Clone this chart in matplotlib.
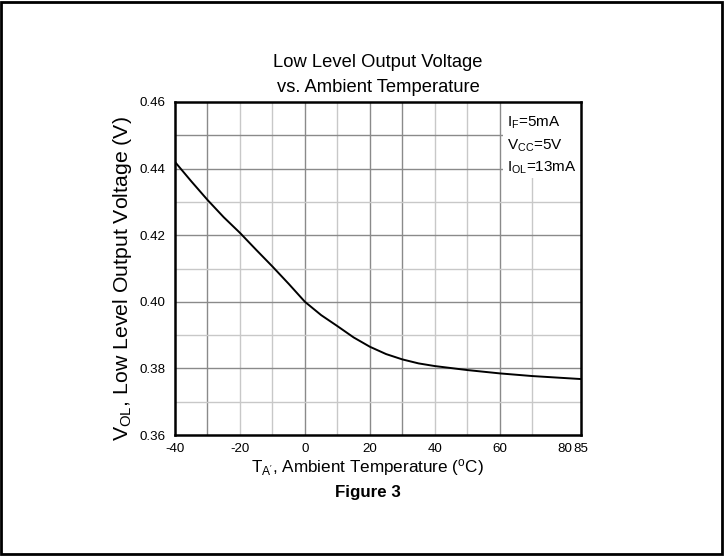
import matplotlib
matplotlib.use("Agg")
import matplotlib.pyplot as plt
from matplotlib.patches import Rectangle

plt.rcParams['font.family'] = ['Liberation Sans', 'DejaVu Sans']
plt.rcParams['mathtext.fontset'] = 'custom'
plt.rcParams['mathtext.rm'] = 'Liberation Sans'
plt.rcParams['mathtext.it'] = 'Liberation Sans'

# Low level output voltage vs ambient temperature
temperature_c = [-40, -35, -30, -25, -20, -15, -10, -5, 0, 5, 10, 15, 20,
                 25, 30, 35, 40, 50, 60, 70, 85]
vol_v = [0.4420, 0.4362, 0.4306, 0.4254, 0.4207, 0.4156, 0.4106, 0.4054,
         0.4000, 0.3960, 0.3927, 0.3893, 0.3865, 0.3843, 0.3827, 0.3815,
         0.3807, 0.3795, 0.3785, 0.3777, 0.3768]

x_ticks = [-40, -20, 0, 20, 40, 60, 80, 85]
x_tick_labels = ['-40', '-20', '0', '20', '40', '60', '80', '85']
y_ticks = [0.36, 0.38, 0.40, 0.42, 0.44, 0.46]
y_tick_labels = ['0.36', '0.38', '0.40', '0.42', '0.44', '0.46']
x_minor = [-30, -10, 10, 30, 50, 70]
y_minor = [0.37, 0.39, 0.41, 0.43, 0.45]

fig = plt.figure(figsize=(7.24, 5.56), dpi=100)
ax = fig.add_axes([175 / 724, 1 - 435 / 556, 406 / 724, 333 / 556])

ax.set_xlim(-40, 85)
ax.set_ylim(0.36, 0.46)

# grid
dark_x = (-30, 0, 20, 30, 60)
dark_y = (0.38, 0.40, 0.42, 0.44, 0.45)
for xv in x_ticks[1:-2] + x_minor:
    ax.axvline(xv, color='#8a8a8a' if xv in dark_x else '#c8c8c8', lw=1.0, zorder=1)
for yv in y_ticks[1:-1] + y_minor:
    ax.axhline(yv, color='#8a8a8a' if yv in dark_y else '#c8c8c8', lw=1.0, zorder=1)

# blank panel behind the test conditions
ax.add_patch(Rectangle((0.808, 0.772), 0.192, 0.228, transform=ax.transAxes,
                       facecolor='white', edgecolor='none', zorder=2))

ax.plot(temperature_c, vol_v, color='black', lw=1.4, zorder=3)

ax.set_xticks(x_ticks)
ax.set_xticklabels(x_tick_labels)
ax.set_yticks(y_ticks)
ax.set_yticklabels(y_tick_labels)
ax.tick_params(length=0, labelsize=9.6)
ax.tick_params(axis='x', pad=6)
ax.tick_params(axis='y', pad=7)
for s in ax.spines.values():
    s.set_linewidth(1.8)
    s.set_zorder(5)

ax.set_xlabel(r"T$_{\mathregular{A'}}$, Ambient Temperature ($^{\mathregular{o}}$C)",
              fontsize=12.3)
ax.xaxis.set_label_coords((367 - 175) / 406, -(468 - 435) / 333)
ax.xaxis.label.set_va('center')
ax.set_ylabel(r"V$_{\mathregular{OL}}$, Low Level Output Voltage (V)", fontsize=15.3)
ax.yaxis.set_label_coords(-(175 - 122) / 406, (435 - 279) / 333)
ax.yaxis.label.set_va('center')

fig.text(378 / 724, 1 - 75 / 556, "Low Level Output Voltage\nvs. Ambient Temperature",
         fontsize=13.2, ha='center', va='center', linespacing=1.6)

conditions = ["I$_{\\mathregular{F}}$=5mA",
              "V$_{\\mathregular{CC}}$=5V",
              "I$_{\\mathregular{OL}}$=13mA"]
for i, line in enumerate(conditions):
    ax.text((507 - 175) / 406, (435 - 123 - 22.5 * i) / 333, line,
            transform=ax.transAxes, fontsize=11, va='center', ha='left', zorder=4)

fig.text(368 / 724, 1 - 493 / 556, "Figure 3", fontsize=12.2, fontweight='bold',
         ha='center', va='center')

fig.patches.append(Rectangle((0.002, 0.003), 0.995, 0.994, transform=fig.transFigure,
                             fill=False, edgecolor='black', lw=2))

fig.savefig("out.png", dpi=100)
